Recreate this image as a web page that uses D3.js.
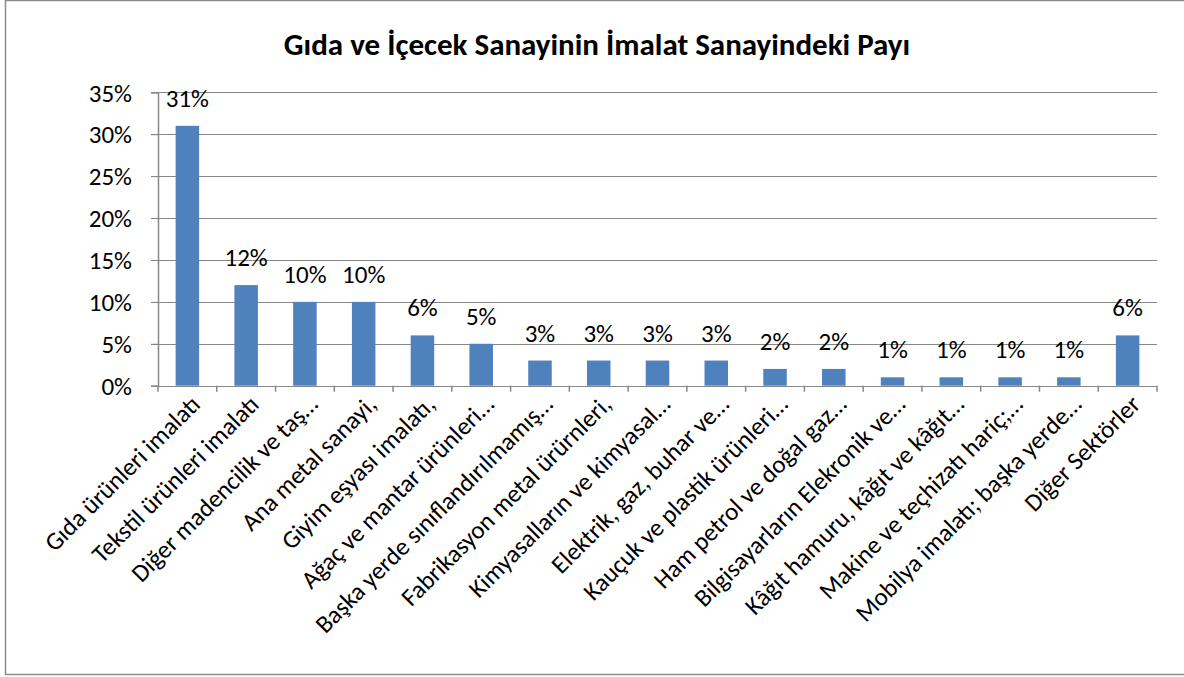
<!DOCTYPE html>
<html>
<head>
<meta charset="utf-8">
<script src="https://cdn.jsdelivr.net/npm/d3@7"></script>
<style>
  body { margin: 0; background: #fff; }
  text { font-family: Calibri, Carlito, "Open Sans", sans-serif; fill: #000; }
</style>
</head>
<body>
<div id="chart"></div>
<script>
// sectors and their share in manufacturing
var sectors = [
  "Gıda ürünleri imalatı",
  "Tekstil ürünleri imalatı",
  "Diğer madencilik ve taş…",
  "Ana metal sanayi,",
  "Giyim eşyası imalatı,",
  "Ağaç ve mantar ürünleri…",
  "Başka yerde sınıflandırılmamış…",
  "Fabrikasyon metal ürürnleri,",
  "Kimyasalların ve kimyasal…",
  "Elektrik, gaz, buhar ve…",
  "Kauçuk ve plastik ürünleri…",
  "Ham petrol ve doğal gaz…",
  "Bilgisayarların Elekronik ve…",
  "Kâğıt hamuru, kâğıt ve kâğıt…",
  "Makine ve teçhizatı hariç;…",
  "Mobilya imalatı; başka yerde…",
  "Diğer Sektörler"
];
var shares = [0.31, 0.12, 0.10, 0.10, 0.06, 0.05, 0.03, 0.03, 0.03, 0.03, 0.02, 0.02, 0.01, 0.01, 0.01, 0.01, 0.06];
var yTicks = [0, 0.05, 0.10, 0.15, 0.20, 0.25, 0.30, 0.35];

var width = 1184;
var height = 677;
var plotLeft = 158, plotRight = 1157, plotTop = 92.3, plotBottom = 385.7;

var svg = d3.select("#chart")
  .append("svg")
  .attr("width", width)
  .attr("height", height);

// chart border (right side falls outside the window)
svg.append("rect")
  .attr("x", 5.5)
  .attr("y", 0.5)
  .attr("width", 1200)
  .attr("height", 674)
  .attr("fill", "white")
  .attr("stroke", "#8c8c8c")
  .attr("stroke-width", 1.5);

var x = d3.scaleBand()
  .domain(sectors)
  .range([plotLeft, plotRight])
  .paddingInner(0.6)
  .paddingOuter(0.3);

var y = d3.scaleLinear()
  .domain([0, 0.35])
  .range([plotBottom, plotTop]);

// title
svg.append("text")
  .attr("x", 597)
  .attr("y", 55)
  .attr("text-anchor", "middle")
  .style("font-size", "31px")
  .style("font-weight", "bold")
  .text("Gıda ve İçecek Sanayinin İmalat Sanayindeki Payı");

// gridlines
svg.append("g")
  .selectAll("line")
  .data(yTicks)
  .join("line")
  .attr("x1", plotLeft - 7)
  .attr("x2", plotRight)
  .attr("y1", function (d) { return Math.round(y(d)) + 0.5; })
  .attr("y2", function (d) { return Math.round(y(d)) + 0.5; })
  .attr("stroke", "#878787")
  .attr("stroke-width", 1.2);

// y axis
var yAxis = svg.append("g")
  .attr("transform", "translate(" + plotLeft + ",0)")
  .call(d3.axisLeft(y).tickValues(yTicks).tickFormat(d3.format(".0%")).tickSize(7).tickPadding(19));
yAxis.select(".domain").attr("stroke", "#878787").attr("stroke-width", 1.5);
yAxis.selectAll(".tick line").attr("stroke", "#878787");
yAxis.selectAll(".tick text")
  .style("font-size", "25px")
  .attr("dy", "0.35em");

// x axis: ticks between categories
var bounds = d3.range(sectors.length + 1).map(function (i) {
  return plotLeft + i * (plotRight - plotLeft) / sectors.length;
});
svg.append("g")
  .selectAll("line")
  .data(bounds)
  .join("line")
  .attr("x1", function (d) { return d; })
  .attr("x2", function (d) { return d; })
  .attr("y1", plotBottom)
  .attr("y2", plotBottom + 6)
  .attr("stroke", "#878787")
  .attr("stroke-width", 1.5);

// bars
svg.append("g")
  .selectAll("rect")
  .data(shares)
  .join("rect")
  .attr("x", function (d, i) { return x(sectors[i]); })
  .attr("y", function (d) { return y(d); })
  .attr("width", x.bandwidth())
  .attr("height", function (d) { return y(0) - y(d); })
  .attr("fill", "#4f81bd");

// data labels
svg.append("g")
  .selectAll("text")
  .data(shares)
  .join("text")
  .attr("x", function (d, i) { return x(sectors[i]) + x.bandwidth() / 2; })
  .attr("y", function (d) { return y(d) - 19; })
  .attr("text-anchor", "middle")
  .style("font-size", "25px")
  .text(function (d) { return Math.round(d * 100) + "%"; });

// category labels
svg.append("g")
  .selectAll("text")
  .data(sectors)
  .join("text")
  .attr("transform", function (d) {
    return "translate(" + (x(d) + x.bandwidth() / 2 + 8) + "," + (plotBottom + 14) + ") rotate(-45)";
  })
  .attr("text-anchor", "end")
  .attr("dy", "0.35em")
  .style("font-size", "25px")
  .text(function (d) { return d; });
</script>
</body>
</html>
